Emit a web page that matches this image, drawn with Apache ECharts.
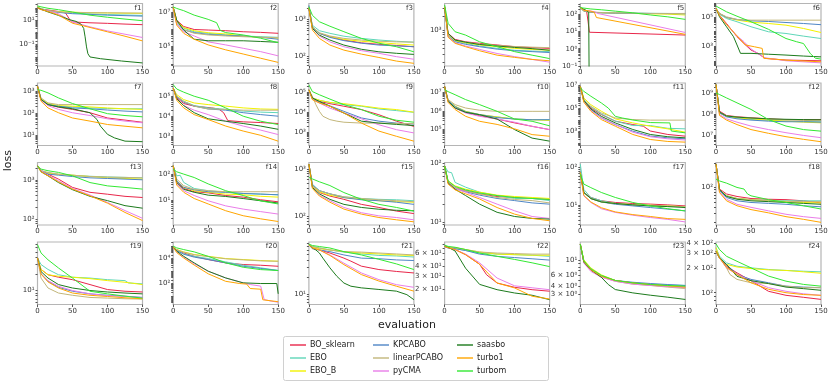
<!DOCTYPE html>
<html>
<head>
<meta charset="utf-8">
<script src="https://cdn.jsdelivr.net/npm/echarts/dist/echarts.min.js"></script>
<style>
  html, body { margin: 0; padding: 0; background: #fff; }
  #main { width: 830px; height: 383px; }
</style>
</head>
<body>
<div id="main"></div>
<script>
// shared x grid (evaluations) used by plain y arrays; [x, y] pairs are used where a curve has a sharp step
const evals = [0, 5, 15, 30, 50, 75, 100, 125, 150]
const seriesNames = ['BO_sklearn', 'EBO', 'EBO_B', 'KPCABO', 'linearPCABO', 'pyCMA', 'saasbo', 'turbo1', 'turbom']
const seriesColors = ['#e8264a', '#5fd6b8', '#f2f200', '#4f86c6', '#c2b67a', '#e97de8', '#1c7a1c', '#ffa500', '#33e833']
const panelNames = ['f1', 'f2', 'f3', 'f4', 'f5', 'f6', 'f7', 'f8', 'f9', 'f10', 'f11', 'f12',
  'f13', 'f14', 'f15', 'f16', 'f17', 'f18', 'f19', 'f20', 'f21', 'f22', 'f23', 'f24']

// y ranges and labelled y ticks per panel
const yMin = [0.0018, 7400, 56, 170, 0.1, 44, 3.2, 340, 205, 1.4e4, 60, 3.3e6, 71, 1.1, 66, 8.8, 2.9, 17.7, 5.5, 2.1, 6.5, 12.3, 2.07, 72]
const yMax = [224, 3.3e7, 2700, 3700, 415, 8.1e5, 2500, 4.6e5, 3e5, 3.2e7, 1.7e7, 3.2e9, 2750, 280, 1380, 103, 136, 316, 76, 2.1e5, 83, 86, 19.5, 411]
const yLabels = [[0.1, 10], [1e5, 1e7], [100, 1000], [1000], [0.1, 1, 10, 100], [1e3, 1e5],
  [10, 100, 1000], [1e3, 1e4, 1e5], [1e3, 1e4, 1e5], [1e5, 1e6, 1e7], [1e3, 1e5, 1e7], [1e7, 1e8, 1e9],
  [100, 1000], [10, 100], [100, 1000], [10, 100], [10, 100], [100],
  [10], [100, 1e4], [10], [20, 30, 40, 60], [3, 4, 6, 10], [100, 200, 300, 400]]

// series order in every panel: BO_sklearn, EBO, EBO_B, KPCABO, linearPCABO, pyCMA, saasbo, turbo1, turbom
const f1 = [
  [[0, 110], [5, 80], [15, 66], [30, 50], [40, 38], [47, 9], [50, 7], [75, 6.0], [100, 5.4], [125, 4.7], [150, 4.2]],
  [126, 85, 59, 45, 37, 32, 28, 26, 24],
  [126, 80, 55, 48, 44, 40, 38, 36, 35],
  [110, 75, 55, 42, 33, 29, 25, 23, 21],
  [110, 80, 55, 46, 42, 40, 39, 38, 37],
  [98, 72, 55, 33, 7, 2.8, 1.3, 0.7, 0.38],
  [[0, 98], [15, 46], [30, 24], [45, 11], [55, 7.8], [62, 4.7], [66, 2.1], [68, 0.43], [70, 0.065], [72, 0.018], [75, 0.0098], [90, 0.0071], [120, 0.0046], [150, 0.0032]],
  [98, 72, 50, 26, 5.5, 2.5, 1.1, 0.48, 0.2],
  [141, 120, 91, 70, 45, 25, 17, 12, 8.9]
]
const f2 = [
  [2.1e7, 3.5e6, 1.5e6, 1.0e6, 9.3e5, 8.5e5, 7.4e5, 6.8e5, 6.0e5],
  [2.1e7, 3.2e6, 1.2e6, 7.4e5, 6e5, 4.8e5, 4.2e5, 3.8e5, 3.5e5],
  [2.1e7, 3.2e6, 1.3e6, 8.5e5, 6.5e5, 5.5e5, 4.2e5, 3.5e5, 3.1e5],
  [1.9e7, 2.3e6, 9.3e5, 6.6e5, 5.2e5, 4.6e5, 4.2e5, 3.5e5, 2.7e5],
  [1.9e7, 2.9e6, 1.0e6, 6e5, 4.8e5, 4.2e5, 3.8e5, 3.5e5, 3.4e5],
  [1.9e7, 2.1e6, 7.4e5, 4.2e5, 1.9e5, 1.26e5, 8e4, 5.1e4, 2.9e4],
  [1.9e7, 3.5e6, 9.3e5, 2.7e5, 2.2e5, 2.2e5, 2.2e5, 2.0e5, 1.8e5],
  [1.9e7, 1.8e6, 6e5, 2.7e5, 1.26e5, 6.5e4, 3.7e4, 2.1e4, 1.2e4],
  [[0, 2.1e7], [5, 1.7e7], [15, 1.26e7], [30, 6.9e6], [50, 3.9e6], [62, 2.5e6], [67, 9e5], [75, 6.6e5], [100, 4.8e5], [125, 3.1e5], [150, 1.7e5]]
]
const f3 = [
  [2000, 630, 425, 345, 280, 235, 215, 200, 185],
  [2200, 700, 500, 425, 355, 310, 280, 260, 245],
  [2100, 630, 425, 345, 290, 260, 240, 220, 205],
  [2400, 610, 425, 330, 270, 230, 205, 195, 185],
  [2100, 630, 440, 360, 310, 280, 260, 250, 245],
  [2000, 575, 360, 250, 185, 145, 123, 100, 85],
  [2000, 575, 380, 280, 205, 158, 135, 123, 115],
  [2000, 520, 310, 205, 150, 117, 95, 76, 66],
  [2200, 1300, 870, 660, 470, 310, 230, 185, 135]
]
const f4 = [
  [3160, 850, 630, 560, 520, 480, 440, 420, 405],
  [3160, 780, 590, 520, 455, 405, 370, 355, 345],
  [3160, 780, 590, 535, 480, 440, 405, 385, 370],
  [3160, 740, 560, 495, 440, 390, 360, 345, 330],
  [3160, 800, 610, 550, 500, 470, 445, 430, 420],
  [3160, 720, 535, 455, 385, 315, 270, 235, 205],
  [2900, 850, 610, 550, 490, 455, 425, 400, 370],
  [3160, 700, 520, 440, 360, 290, 260, 235, 220],
  [3450, 1390, 920, 780, 560, 440, 345, 290, 245]
]
const f5 = [
  [[0, 240], [5, 180], [9, 150], [11, 40], [13, 9], [15, 7], [150, 6.2]],
  [240, 150, 130, 122, 118, 115, 112, 110, 108],
  [240, 150, 130, 120, 115, 110, 105, 100, 90],
  [240, 150, 130, 120, 115, 112, 110, 108, 105],
  [240, 155, 135, 125, 120, 115, 110, 110, 110],
  [[0, 240], [5, 170], [15, 150], [20, 140], [25, 110], [150, 8.7]],
  [[0, 240], [8, 170], [12, 130], [13, 1e-4], [150, 1e-4]],
  [[0, 240], [5, 170], [15, 150], [20, 130], [23, 64], [150, 6.8]],
  [240, 225, 200, 180, 150, 120, 90, 70, 50]
]
const f6 = [
  [[0, 3.7e5], [5, 1.3e5], [15, 3.5e4], [30, 4.4e3], [40, 1.5e3], [50, 540], [60, 320], [70, 145], [100, 112], [150, 100]],
  [3.7e5, 1.5e5, 7.7e4, 4.6e4, 2.1e4, 9.5e3, 7.3e3, 4.8e3, 3.3e3],
  [3.7e5, 1.7e5, 9e4, 6e4, 4.3e4, 3.5e4, 2.7e4, 1.6e4, 8.5e3],
  [3.7e5, 1.7e5, 9e4, 6.6e4, 5.3e4, 4.8e4, 4.1e4, 3.5e4, 2.9e4],
  [3.7e5, 1.7e5, 1e5, 6.6e4, 5.9e4, 5.9e4, 5.9e4, 5.9e4, 5.9e4],
  [[0, 3.7e5], [5, 1.2e5], [15, 3e4], [30, 5e3], [40, 2e3], [50, 650], [60, 300], [70, 160], [100, 100], [150, 72]],
  [[0, 3.7e5], [5, 1e5], [15, 2.1e4], [25, 4.4e3], [30, 1.2e3], [35, 320], [50, 320], [75, 280], [100, 245], [125, 210], [150, 185]],
  [[0, 3.7e5], [5, 1.2e5], [15, 3e4], [30, 5e3], [42, 1200], [55, 900], [66, 700], [68, 150], [100, 110], [150, 85]],
  [[0, 5.4e5], [15, 2.2e5], [30, 1.1e5], [50, 4.6e4], [75, 1.4e4], [100, 3.3e3], [115, 2e3], [125, 1.5e3], [135, 300], [142, 150], [150, 130]]
]
const f7 = [
  [1780, 430, 250, 190, 150, 105, 60, 48, 38],
  [1780, 460, 280, 210, 195, 175, 165, 160, 160],
  [1780, 460, 280, 225, 210, 195, 175, 160, 150],
  [1780, 430, 250, 210, 175, 160, 140, 125, 115],
  [1780, 510, 300, 250, 250, 250, 250, 250, 250],
  [1780, 400, 225, 150, 105, 78, 55, 43, 36],
  [[0, 1780], [5, 430], [15, 250], [30, 195], [50, 160], [75, 105], [80, 72], [85, 51], [90, 25], [100, 10.5], [110, 7.2], [125, 5.1], [150, 4.8]],
  [1780, 360, 175, 105, 60, 43, 30, 25, 21],
  [1230, 1150, 870, 510, 280, 160, 95, 78, 68]
]
const f8 = [
  [[0, 2.6e5], [5, 8.3e4], [15, 4.3e4], [30, 3.2e4], [55, 2.6e4], [65, 2.3e4], [72, 1.5e4], [78, 6e3], [100, 5.2e3], [125, 4.8e3], [150, 4.3e3]],
  [2.6e5, 1e5, 5.6e4, 3.4e4, 2.6e4, 2.2e4, 1.8e4, 1.6e4, 1.5e4],
  [2.6e5, 1.2e5, 6.8e4, 4.6e4, 3.8e4, 3.2e4, 2.6e4, 2.3e4, 2.2e4],
  [2.6e5, 9.3e4, 5e4, 3.2e4, 2.3e4, 2e4, 1.5e4, 1.2e4, 1e4],
  [2.6e5, 1e5, 5.6e4, 3.2e4, 2.3e4, 2.2e4, 2e4, 2e4, 2e4],
  [2.6e5, 7.4e4, 3.4e4, 2e4, 1.2e4, 5.6e3, 3.2e3, 2e3, 1.2e3],
  [2.6e5, 7.4e4, 3.4e4, 1.5e4, 7.4e3, 5.6e3, 4.3e3, 3.2e3, 2.2e3],
  [2.6e5, 6.3e4, 2.6e4, 1.2e4, 6.8e3, 3.2e3, 1.8e3, 1.1e3, 560],
  [3.8e5, 2.3e5, 1.6e5, 1e5, 6.3e4, 2.6e4, 1e4, 5.6e3, 3.8e3]
]
const f9 = [
  [1.36e5, 5.2e4, 3.5e4, 2.7e4, 2e4, 1.35e4, 7.4e3, 3.5e3, 1.9e3],
  [1.36e5, 5.2e4, 4e4, 3.1e4, 2.4e4, 2e4, 1.45e4, 1.2e4, 9.8e3],
  [1.36e5, 5.2e4, 4e4, 3.1e4, 2.7e4, 2.1e4, 1.6e4, 1.35e4, 1e4],
  [1.36e5, 4.6e4, 3.1e4, 2.1e4, 1.1e4, 5.1e3, 3.5e3, 2.8e3, 2.5e3],
  [[0, 1.36e5], [5, 6.3e4], [10, 2.4e4], [15, 1.1e4], [20, 6.2e3], [30, 4.2e3], [40, 3.5e3], [50, 3.1e3], [75, 2.8e3], [100, 2.8e3], [150, 2.6e3]],
  [1.36e5, 4.6e4, 2.9e4, 1.6e4, 9.1e3, 4.6e3, 2.3e3, 1.3e3, 890],
  [1.36e5, 5.2e4, 3.5e4, 2e4, 9e3, 3.5e3, 2.8e3, 2.4e3, 2.1e3],
  [1.36e5, 4.3e4, 2.9e4, 2e4, 9.1e3, 2.8e3, 1.1e3, 600, 340],
  [2.4e5, 1.1e5, 7.6e4, 4.6e4, 2.4e4, 1.35e4, 6.2e3, 3.9e3, 3.1e3]
]
const f10 = [
  [2.1e7, 3.3e6, 1.45e6, 8.5e5, 5.6e5, 3.7e5, 2.3e5, 1.5e5, 1e5],
  [2.1e7, 3.7e6, 1.8e6, 9.6e5, 6.4e5, 4.8e5, 3.7e5, 3.4e5, 3.4e5],
  [2.1e7, 3.7e6, 1.8e6, 9.6e5, 6.4e5, 4.8e5, 3.7e5, 3.4e5, 3.1e5],
  [2.1e7, 3.7e6, 1.7e6, 9e5, 6.4e5, 4.4e5, 3.7e5, 3.4e5, 3.4e5],
  [2.1e7, 4.1e6, 2.2e6, 1.45e6, 1.1e6, 9.6e5, 9.6e5, 9.6e5, 9.6e5],
  [2.1e7, 3.3e6, 1.45e6, 7.8e5, 5.2e5, 3.7e5, 2.5e5, 1.5e5, 1e5],
  [2.1e7, 3.3e6, 1.45e6, 8.5e5, 6.3e5, 3.7e5, 1e5, 3.5e4, 2.4e4],
  [2.1e7, 2.9e6, 1.2e6, 5.2e5, 2.8e5, 1.9e5, 1.1e5, 5.4e4, 4.4e4],
  [1.4e7, 1.1e7, 7.5e6, 4.1e6, 2.2e6, 9.6e5, 3.7e5, 2.8e5, 1.6e5]
]
const f11 = [
  [[0, 8.7e6], [5, 6e5], [15, 1.1e5], [30, 3e4], [50, 8e3], [75, 4e3], [90, 2.9e3], [100, 1.1e3], [125, 550], [150, 390]],
  [8.7e6, 6e5, 1.4e5, 3.4e4, 8e3, 3.3e3, 3.3e3, 1.9e3, 1.7e3],
  [8.7e6, 8.5e5, 2.2e5, 5.9e4, 1.26e4, 5.6e3, 2.9e3, 1.7e3, 870],
  [8.7e6, 4.3e5, 8e4, 1.55e4, 4e3, 1.07e3, 400, 280, 230],
  [8.7e6, 6e5, 1.6e5, 4.2e4, 1.5e4, 1.1e4, 9.8e3, 9.8e3, 9.8e3],
  [8.7e6, 4.3e5, 7e4, 1.55e4, 4e3, 870, 350, 230, 180],
  [8.7e6, 5.2e5, 9.3e4, 2.1e4, 5.6e3, 1.5e3, 550, 350, 280],
  [8.7e6, 3.6e5, 5.9e4, 1.1e4, 2.9e3, 550, 200, 135, 118],
  [[0, 6.3e6], [5, 3.2e6], [15, 1.2e6], [30, 3.1e5], [40, 1.1e5], [50, 2.1e4], [60, 1.5e4], [75, 1e4], [100, 6e3], [128, 5.6e3], [130, 1.1e3], [150, 760]]
]
const f12 = [
  [2.7e9, 1.45e8, 9e7, 7.8e7, 7e7, 6.2e7, 5.7e7, 5.7e7, 5.7e7],
  [2.7e9, 1.2e8, 8.3e7, 6.9e7, 5.8e7, 5.2e7, 4.8e7, 4.6e7, 4.5e7],
  [2.7e9, 1.2e8, 8.3e7, 6.9e7, 6.2e7, 5.4e7, 4.8e7, 4.3e7, 4e7],
  [2.7e9, 1.2e8, 7.7e7, 6.2e7, 5.4e7, 4.8e7, 4.5e7, 4.5e7, 4.3e7],
  [2.7e9, 1.3e8, 8.5e7, 7.5e7, 6.8e7, 6e7, 5.5e7, 5.2e7, 5e7],
  [2.7e9, 1e8, 6.2e7, 4.3e7, 2.8e7, 1.9e7, 1.35e7, 1e7, 7.8e6],
  [2.7e9, 1.3e8, 8.5e7, 7.5e7, 6.8e7, 6.2e7, 5.9e7, 5.7e7, 5.6e7],
  [2.7e9, 9e7, 5.4e7, 3.3e7, 1.9e7, 1.26e7, 8.7e6, 6.5e6, 5e6],
  [1.07e9, 9e8, 6.2e8, 3.6e8, 1.75e8, 5.7e7, 2.8e7, 1.9e7, 1.6e7]
]
const f13 = [
  [2270, 1700, 1390, 1040, 640, 480, 430, 380, 355],
  [2270, 1700, 1500, 1380, 1300, 1230, 1180, 1150, 1120],
  [2270, 1700, 1480, 1370, 1310, 1210, 1120, 1080, 1040],
  [2270, 1700, 1390, 1310, 1210, 1120, 1080, 1040, 1000],
  [2270, 1700, 1540, 1390, 1310, 1210, 1170, 1150, 1120],
  [2270, 1700, 1310, 940, 600, 410, 265, 165, 105],
  [2270, 1600, 1260, 850, 560, 380, 295, 220, 190],
  [2270, 1600, 1260, 890, 580, 390, 255, 148, 92],
  [2200, 1870, 1700, 1540, 1260, 850, 700, 640, 580]
]
const f14 = [
  [210, 48, 28, 21, 19, 15, 13, 10.3, 8.6],
  [[0, 210], [5, 86], [10, 90], [15, 48], [30, 28], [50, 23], [75, 20], [100, 18], [125, 17], [150, 16]],
  [210, 55, 31, 23, 20, 17, 16, 14, 13],
  [210, 55, 31, 25, 21, 20, 18, 17, 16],
  [210, 64, 36, 26, 23, 21, 21, 21, 21],
  [210, 42, 23, 15, 9.4, 6, 4.5, 3.6, 2.9],
  [210, 48, 26, 20, 15.5, 13.8, 11.5, 9.4, 7.7],
  [210, 38, 20, 11.5, 7.1, 3.9, 2.5, 1.9, 1.5],
  [155, 123, 100, 74, 42, 23, 15, 9.3, 7.1]
]
const f15 = [
  [1280, 440, 320, 270, 230, 180, 155, 130, 115],
  [1280, 480, 350, 300, 260, 240, 230, 225, 215],
  [1280, 440, 330, 280, 250, 230, 215, 205, 200],
  [1280, 460, 350, 300, 250, 225, 215, 200, 180],
  [1280, 440, 350, 300, 260, 240, 225, 215, 205],
  [1280, 410, 280, 215, 155, 120, 103, 95, 85],
  [1280, 410, 300, 230, 180, 155, 142, 135, 132],
  [1280, 390, 270, 200, 143, 112, 95, 85, 77],
  [670, 620, 540, 450, 320, 230, 180, 155, 130]
]
const f16 = [
  [90, 47, 38, 34, 30, 27, 26, 25, 24],
  [[0, 90], [5, 71], [10, 69], [15, 47], [30, 39], [50, 32], [75, 28], [100, 25], [125, 25], [150, 23]],
  [90, 50, 41, 36, 32, 28.5, 27, 26, 25],
  [90, 47, 37, 32.5, 28.5, 25, 23, 21, 20],
  [90, 48, 38, 34, 30, 26, 24, 23, 21],
  [90, 46, 37, 32, 26, 20, 15.4, 12.3, 11.4],
  [90, 46, 36, 28, 20, 14.5, 12.3, 11.4, 11.1],
  [90, 44, 35, 30, 24.5, 17.5, 13.5, 11.4, 10.4],
  [90, 50, 40, 35, 31, 28, 26, 25, 24]
]
const f17 = [
  [73, 21.5, 15.8, 12.9, 11.6, 10.9, 10.5, 10, 9.4],
  [123, 26, 15.8, 12.9, 11, 10, 9.4, 9.1, 8.9],
  [73, 21.5, 14.8, 12, 10.9, 10.2, 9.8, 9.4, 8.9],
  [73, 21.5, 14.8, 12, 10.4, 9.4, 8.5, 7.7, 6.9],
  [73, 21.5, 14.8, 12, 10.9, 10.2, 9.8, 9.4, 9],
  [73, 17.4, 11.6, 7.9, 6.3, 5.3, 4.6, 4.1, 3.5],
  [73, 21.5, 14.8, 12, 10.9, 10, 9.4, 9, 8.5],
  [73, 18, 12, 8.4, 6.5, 5.5, 4.9, 4.3, 4.1],
  [66, 36, 29, 21.5, 15.8, 11.6, 9.4, 7.9, 6.9]
]
const f18 = [
  [295, 93, 74, 66, 60, 58, 57, 54, 49],
  [295, 90, 68, 60, 57, 55, 54, 54, 54],
  [295, 90, 68, 60, 57, 54, 52, 50, 49],
  [295, 86, 63, 54, 50, 48, 46, 43, 41],
  [295, 90, 68, 60, 57, 54, 53, 52, 52],
  [295, 82, 58, 46, 40, 34, 29, 26, 24],
  [295, 90, 66, 58, 54, 52, 50, 48, 46],
  [295, 79, 54, 43, 36, 31, 26, 23, 20],
  [[0, 147], [5, 135], [15, 122], [30, 100], [40, 93], [45, 74], [50, 68], [75, 57], [100, 50], [125, 43], [150, 37]]
]
const f19 = [
  [39, 24, 19.2, 17.3, 15.6, 12.7, 10.3, 9.6, 9.3],
  [[0, 39], [5, 29.5], [15, 24], [30, 19.2], [50, 17.3], [75, 16.7], [100, 15.6], [125, 15], [130, 13.6], [150, 13.1]],
  [39, 24, 19.2, 18, 17.3, 16.3, 15, 14, 12.7],
  [39, 20, 14.6, 11.3, 9.6, 8.6, 8.1, 7.8, 7.4],
  [39, 16.7, 11, 8.9, 8.1, 7.4, 7.2, 7, 6.9],
  [39, 20, 15, 11.8, 9.9, 8.6, 8, 7.7, 7.4],
  [39, 22, 16.7, 12.7, 11, 9.9, 9.3, 8.9, 8.6],
  [39, 19.8, 14.2, 11, 8.9, 8.1, 7.7, 7.3, 7],
  [68, 48, 36, 25.5, 16.7, 9.6, 8.6, 7.8, 7.2]
]
const f20 = [
  [8.1e4, 5.2e4, 2.8e4, 1.5e4, 8.3e3, 4.5e3, 3.3e3, 2.9e3, 2.4e3],
  [8.1e4, 4.4e4, 2.4e4, 1.5e4, 1e4, 5.4e3, 2.9e3, 1.8e3, 1.1e3],
  [8.1e4, 5.2e4, 3.4e4, 2.1e4, 1.5e4, 1e4, 8.3e3, 6.9e3, 6.1e3],
  [8.1e4, 4.4e4, 2.2e4, 1.3e4, 8.3e3, 4.5e3, 2.4e3, 1.6e3, 1.1e3],
  [8.1e4, 5e4, 3.2e4, 2e4, 1.4e4, 9.5e3, 7.8e3, 6.5e3, 6e3],
  [[0, 8.1e4], [5, 3.4e4], [15, 1.3e4], [30, 3.8e3], [50, 970], [75, 280], [100, 113], [110, 83], [125, 62], [130, 5.2], [140, 3.9], [150, 3.2]],
  [[0, 8.1e4], [5, 3.9e4], [15, 1.5e4], [30, 4.5e3], [50, 970], [75, 280], [100, 113], [125, 100], [148, 100], [150, 15]],
  [[0, 8.1e4], [5, 3e4], [15, 1.1e4], [30, 3e3], [50, 600], [75, 150], [95, 100], [105, 90], [110, 40], [125, 35], [128, 5], [150, 3.5]],
  [9.8e4, 7.1e4, 5.2e4, 3.4e4, 1.5e4, 4.5e3, 2e3, 1.3e3, 1.1e3]
]
const f21 = [
  [[0, 74], [5, 65], [15, 60], [30, 53], [50, 43], [60, 38], [75, 31], [100, 27], [125, 25], [150, 23.5]],
  [76, 69, 65, 60, 55, 51, 48, 47, 45],
  [74, 67, 63, 60, 56, 53, 51, 49, 48],
  [74, 63, 60, 56, 49, 43, 42, 40, 39],
  [74, 69, 65, 60, 56, 55, 53, 51, 49],
  [74, 65, 60, 49, 35, 23.5, 17.9, 14.6, 13.1],
  [[0, 74], [5, 65], [10, 60], [15, 53], [20, 43], [30, 29], [40, 20.5], [50, 15.6], [60, 13.7], [75, 12.8], [100, 12], [125, 11.2], [140, 9.7], [150, 7.9]],
  [74, 65, 60, 48, 33, 22, 16.9, 13.7, 11.2],
  [76, 72, 69, 65, 56, 49, 41, 34, 27]
]
const f22 = [
  [[0, 75], [5, 72], [15, 68], [30, 58], [50, 43], [60, 31], [75, 24], [100, 21], [125, 19.5], [150, 18.6]],
  [78, 73, 70, 66, 61, 59, 58, 57, 55],
  [75, 73, 72, 68, 63, 59, 58, 57, 57],
  [75, 71, 70, 66, 59, 55, 53, 51, 49],
  [75, 73, 72, 68, 63, 61, 60, 59, 59],
  [75, 72, 68, 59, 45, 28, 22, 20.7, 19.5],
  [75, 73, 65, 38, 23, 19.5, 17.6, 16.4, 14.3],
  [75, 72, 68, 58, 43, 24, 20.6, 15.9, 14.6],
  [78, 75, 73, 68, 61, 55, 50, 45, 40]
]
const f23 = [
  [18, 9.5, 7.1, 5.6, 4.9, 4.45, 4.15, 3.95, 3.86],
  [18, 9.8, 7.2, 5.7, 4.9, 4.5, 4.3, 4.17, 4.1],
  [18, 10.3, 7.7, 6.0, 4.9, 4.5, 4.24, 4, 3.76],
  [18, 9.8, 7.2, 5.7, 4.9, 4.6, 4.4, 4.24, 4.1],
  [18, 9.5, 7.1, 5.6, 4.76, 4.3, 4.1, 3.86, 3.67],
  [18, 9.2, 6.8, 5.5, 4.76, 4.3, 4.1, 3.95, 3.76],
  [[0, 18], [5, 9.5], [15, 7.2], [30, 5.5], [40, 4.24], [50, 3.54], [75, 3.14], [100, 2.89], [125, 2.69], [150, 2.48]],
  [18, 9.8, 7.2, 5.7, 4.9, 4.5, 4.24, 4.05, 3.86],
  [18, 10, 7.5, 5.9, 4.9, 4.5, 4.24, 4.1, 4.0]
]
const f24 = [
  [318, 264, 209, 174, 140, 104, 93, 88, 83],
  [350, 276, 230, 209, 200, 191, 186, 182, 179],
  [350, 265, 220, 205, 196, 189, 186, 179, 172],
  [318, 264, 219, 166, 145, 132, 120, 117, 115],
  [[0, 318], [5, 264], [15, 200], [20, 166], [30, 145], [50, 132], [75, 129], [100, 120], [125, 115], [150, 115]],
  [318, 264, 200, 166, 140, 115, 104, 97, 93],
  [318, 264, 219, 158, 140, 129, 117, 112, 107],
  [318, 264, 203, 166, 132, 110, 100, 95, 93],
  [390, 333, 276, 240, 200, 159, 138, 126, 120]
]
const panels = [f1, f2, f3, f4, f5, f6, f7, f8, f9, f10, f11, f12,
  f13, f14, f15, f16, f17, f18, f19, f20, f21, f22, f23, f24]

const legendCols = [['BO_sklearn', 'EBO', 'EBO_B'], ['KPCABO', 'linearPCABO', 'pyCMA'], ['saasbo', 'turbo1', 'turbom']]

const FONT = 'DejaVu Sans'
const SUP = { '0': '⁰', '1': '¹', '2': '²', '3': '³', '4': '⁴', '5': '⁵', '6': '⁶', '7': '⁷', '8': '⁸', '9': '⁹', '-': '⁻' }

function sup (n) {
  return String(n).split('').map(c => SUP[c]).join('')
}

// matplotlib style log label: 10^k or m × 10^k
function logLabel (v) {
  const e = Math.floor(Math.log10(v) + 1e-9)
  const m = Math.round(v / Math.pow(10, e))
  const p = '10' + sup(e)
  return m === 1 ? p : m + ' × ' + p
}

// major + minor tick positions inside [min, max]
function logTicks (min, max) {
  const out = []
  for (let k = Math.floor(Math.log10(min)); k <= Math.ceil(Math.log10(max)); k++) {
    for (let m = 1; m < 10; m++) {
      const v = m * Math.pow(10, k)
      if (v >= min && v <= max) out.push(v)
    }
  }
  return out
}

function toPoints (s) {
  return Array.isArray(s[0]) ? s : s.map((y, i) => [evals[i], y])
}

const chart = echarts.init(document.getElementById('main'))

const grids = []
const xAxes = []
const yAxes = []
const titles = []
const series = []

panels.forEach((panel, i) => {
  const col = i % 6
  const row = Math.floor(i / 6)
  const left = 37.5 + col * 135.7
  const top = 3.5 + row * 79.5
  const width = 105
  const height = 62.5
  grids.push({
    left, top, width, height,
    show: true,
    borderColor: '#b5b5b5',
    borderWidth: 1.2,
    outerBoundsMode: 'none'
  })
  xAxes.push({
    type: 'value',
    gridIndex: i,
    min: 0,
    max: 150,
    interval: 50,
    axisLine: { show: false },
    axisTick: { show: true, length: 2.5, lineStyle: { color: '#555' } },
    axisLabel: { fontSize: 7, color: '#333', margin: 3, fontFamily: FONT },
    splitLine: { show: false }
  })
  yAxes.push({
    type: 'log',
    logBase: 10,
    gridIndex: i,
    min: yMin[i],
    max: yMax[i],
    axisLine: { show: false },
    axisTick: { show: true, length: 2, lineStyle: { color: '#555' }, customValues: logTicks(yMin[i], yMax[i]) },
    axisLabel: {
      fontSize: 7,
      color: '#333',
      margin: 3,
      fontFamily: FONT,
      customValues: yLabels[i],
      formatter: v => logLabel(v)
    },
    splitLine: { show: false },
    minorTick: { show: false }
  })
  titles.push({
    text: panelNames[i],
    right: 830 - (left + width) + 1,
    top: top + 1,
    padding: 0,
    textStyle: { fontSize: 7, fontWeight: 'normal', color: '#333', fontFamily: FONT }
  })
  panel.forEach((s, k) => {
    series.push({
      type: 'line',
      name: seriesNames[k],
      xAxisIndex: i,
      yAxisIndex: i,
      data: toPoints(s),
      symbol: 'none',
      showSymbol: false,
      clip: true,
      silent: true,
      z: k === 8 ? 3 : 2,
      lineStyle: { width: 1, color: seriesColors[k] },
      itemStyle: { color: seriesColors[k] }
    })
  })
})

// plain line legend marks, as in matplotlib
const legendLeft = [290, 373, 457]
const legends = legendCols.map((names, c) => ({
  orient: 'vertical',
  left: legendLeft[c],
  top: 341,
  itemGap: 5,
  itemWidth: 16,
  itemHeight: 8,
  padding: 0,
  selectedMode: false,
  icon: 'path://M0,0 L16,0 L16,1.4 L0,1.4 Z',
  data: names,
  textStyle: { fontSize: 8, color: '#222', fontFamily: FONT, padding: [0, 0, 0, -1] }
}))

chart.setOption({
  animation: false,
  backgroundColor: '#fff',
  textStyle: { fontFamily: FONT },
  title: titles,
  grid: grids,
  xAxis: xAxes,
  yAxis: yAxes,
  legend: legends,
  series,
  graphic: [
    {
      type: 'text',
      left: 3,
      top: 150,
      rotation: Math.PI / 2,
      style: { text: 'loss', font: '11px "DejaVu Sans"', fill: '#222' }
    },
    {
      type: 'text',
      left: 378,
      top: 320,
      style: { text: 'evaluation', font: '11px "DejaVu Sans"', fill: '#222' }
    },
    {
      type: 'rect',
      shape: { x: 283.5, y: 336.5, width: 265, height: 44, r: 2 },
      style: { fill: 'none', stroke: '#d0d0d0', lineWidth: 1 }
    }
  ]
})
</script>
</body>
</html>
